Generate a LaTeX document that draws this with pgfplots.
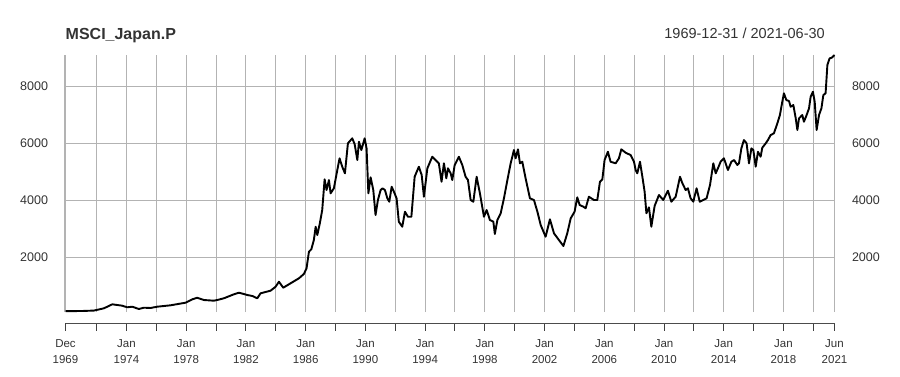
\documentclass[border=0pt]{standalone}
\usepackage{fontspec}
\setmainfont{Liberation Sans}
\usepackage{pgfplots}
\usepackage{pgfplotstable}
\pgfplotsset{compat=1.18}
\pgfplotstableread{
year value
1969.92 100
1971.00 105
1971.82 120
1972.49 200
1973.05 340
1973.38 316
1973.72 291
1974.05 235
1974.39 256
1974.83 175
1975.16 221
1975.61 211
1976.06 256
1976.95 305
1977.96 397
1978.41 516
1978.74 570
1979.18 491
1979.85 467
1980.08 491
1980.52 551
1981.19 691
1981.53 747
1981.86 702
1982.09 667
1982.43 632
1982.76 551
1982.98 726
1983.65 818
1983.99 958
1984.21 1133
1984.50 923
1984.99 1077
1985.55 1253
1985.88 1404
1986.06 1604
1986.22 2186
1986.38 2270
1986.55 2597
1986.67 3063
1986.78 2772
1986.95 3183
1987.11 3649
1987.27 4727
1987.40 4351
1987.56 4702
1987.67 4235
1987.89 4411
1988.12 5053
1988.27 5464
1988.45 5169
1988.63 4937
1988.83 5990
1989.12 6165
1989.28 5965
1989.46 5404
1989.57 6046
1989.73 5755
1989.95 6165
1990.08 5814
1990.20 4235
1990.35 4797
1990.53 4351
1990.68 3474
1990.84 4000
1991.02 4351
1991.15 4411
1991.31 4351
1991.47 4060
1991.60 3941
1991.76 4467
1991.91 4292
1992.09 4060
1992.24 3239
1992.47 3063
1992.65 3590
1992.85 3414
1993.08 3414
1993.30 4818
1993.58 5169
1993.77 4878
1993.92 4116
1994.15 5113
1994.48 5520
1994.70 5404
1994.92 5288
1995.10 4642
1995.26 5288
1995.42 4762
1995.53 5113
1995.71 4937
1995.82 4702
1995.98 5228
1996.26 5520
1996.49 5228
1996.71 4818
1996.87 4702
1997.05 4000
1997.23 3941
1997.45 4818
1997.67 4235
1997.94 3414
1998.12 3649
1998.34 3298
1998.57 3239
1998.67 2807
1998.84 3298
1999.06 3534
1999.28 4060
1999.51 4702
1999.73 5288
1999.95 5755
2000.06 5464
2000.22 5779
2000.35 5288
2000.51 5344
2000.73 4762
2001.02 4060
2001.29 4000
2001.52 3590
2001.74 3123
2002.07 2712
2002.36 3323
2002.63 2832
2002.96 2597
2003.26 2386
2003.52 2832
2003.75 3358
2004.01 3590
2004.19 4095
2004.35 3825
2004.60 3765
2004.75 3709
2004.97 4116
2005.31 4000
2005.53 4000
2005.71 4642
2005.87 4727
2006.02 5404
2006.24 5695
2006.42 5344
2006.76 5288
2006.98 5464
2007.14 5779
2007.43 5660
2007.76 5579
2007.99 5344
2008.10 5053
2008.21 4937
2008.39 5344
2008.55 4818
2008.70 4292
2008.82 3534
2008.99 3744
2009.15 3063
2009.37 3790
2009.66 4176
2009.95 4000
2010.26 4327
2010.49 3941
2010.78 4116
2011.07 4818
2011.23 4586
2011.45 4351
2011.60 4411
2011.78 4060
2011.96 3941
2012.18 4411
2012.39 3941
2012.63 4000
2012.85 4060
2013.08 4527
2013.30 5288
2013.46 4937
2013.61 5113
2013.79 5344
2014.01 5464
2014.28 5053
2014.51 5344
2014.69 5404
2014.91 5228
2015.02 5288
2015.18 5814
2015.35 6106
2015.53 5990
2015.69 5288
2015.85 5814
2015.98 5755
2016.14 5169
2016.29 5695
2016.47 5520
2016.58 5835
2016.81 5990
2016.96 6106
2017.14 6281
2017.36 6341
2017.59 6692
2017.76 6983
2017.92 7450
2018.03 7744
2018.19 7509
2018.37 7474
2018.48 7274
2018.66 7334
2018.82 6867
2018.93 6457
2019.04 6867
2019.26 6983
2019.37 6748
2019.55 6983
2019.71 7218
2019.82 7625
2019.97 7801
2020.09 7450
2020.22 6457
2020.38 6983
2020.54 7218
2020.67 7685
2020.82 7744
2020.94 8737
2021.09 8973
2021.23 8994
2021.42 9088
}\japan
\definecolor{gridgray}{HTML}{B3B3B3}
\definecolor{txt}{HTML}{333333}
\begin{document}
\begin{tikzpicture}
\useasboundingbox (-65.5pt,-64pt) rectangle (834.5pt,312pt);
% main axis: grid and data, left labels
\begin{axis}[name=main, at={(0,0)}, anchor=south west, scale only axis,
  width=769pt, height=257pt,
  xmin=1969.917, xmax=2021.417, ymin=70, ymax=9090,
  axis line style={draw=none}, major tick length=0pt,
  xtick={1969.917,1972,1974,1976,1978,1980,1982,1984,1986,1988,1990,1992,1994,1996,1998,2000,2002,2004,2006,2008,2010,2012,2014,2016,2018,2020,2021.417},
  xticklabels={},
  ytick={2000,4000,6000,8000},
  grid=major, major grid style={color=gridgray, line width=1pt},
  yticklabel style={font=\fontsize{12.5}{14}\selectfont, text=txt, anchor=east, xshift=-14pt},
  /pgf/number format/assume math mode=true,
  /pgf/number format/set thousands separator={},
  scaled y ticks=false, clip=false]
\draw[gridgray, line width=2pt] (rel axis cs:0,0) -- (rel axis cs:0,1);
\addplot[black, line width=1.9pt, line join=round] table[x=year, y=value] {\japan};
\end{axis}
% right labels
\begin{axis}[at={(0,0)}, anchor=south west, scale only axis,
  width=769pt, height=257pt,
  xmin=1969.917, xmax=2021.417, ymin=70, ymax=9090,
  axis line style={draw=none}, major tick length=0pt,
  xtick=\empty, ytick={2000,4000,6000,8000}, yticklabel pos=right,
  yticklabel style={font=\fontsize{12.5}{14}\selectfont, text=txt, anchor=west, xshift=14pt},
  /pgf/number format/assume math mode=true,
  /pgf/number format/set thousands separator={},
  scaled y ticks=false]
\end{axis}
% x axis
\begin{axis}[at={(0,-11pt)}, anchor=south west, scale only axis,
  width=769pt, height=10pt,
  xmin=1969.917, xmax=2021.417, ymin=0, ymax=1,
  axis x line*=bottom, axis y line=none,
  x axis line style={black!70, line width=1pt},
  xtick align=outside, major tick length=7.5pt,
  xtick style={black!75, line width=1pt},
  xtick={1969.917,1972,1974,1976,1978,1980,1982,1984,1986,1988,1990,1992,1994,1996,1998,2000,2002,2004,2006,2008,2010,2012,2014,2016,2018,2020,2021.417},
  xticklabels={{Dec\\1969},{},{Jan\\1974},{},{Jan\\1978},{},{Jan\\1982},{},{Jan\\1986},{},{Jan\\1990},{},{Jan\\1994},{},{Jan\\1998},{},{Jan\\2002},{},{Jan\\2006},{},{Jan\\2010},{},{Jan\\2014},{},{Jan\\2018},{},{Jun\\2021}},
  xticklabel style={font=\fontsize{11.5}{16}\selectfont, text=txt, align=center, yshift=-6pt}]
\end{axis}
\node[anchor=base west, font=\bfseries\fontsize{16}{18}\selectfont, text=txt, inner sep=0pt] at (0pt,273pt) {MSCI\_Japan.P};
\node[anchor=base east, font=\fontsize{14.5}{16}\selectfont, text=txt, inner sep=0pt] at (759.5pt,274pt) {1969-12-31 / 2021-06-30};
\end{tikzpicture}
\end{document}
